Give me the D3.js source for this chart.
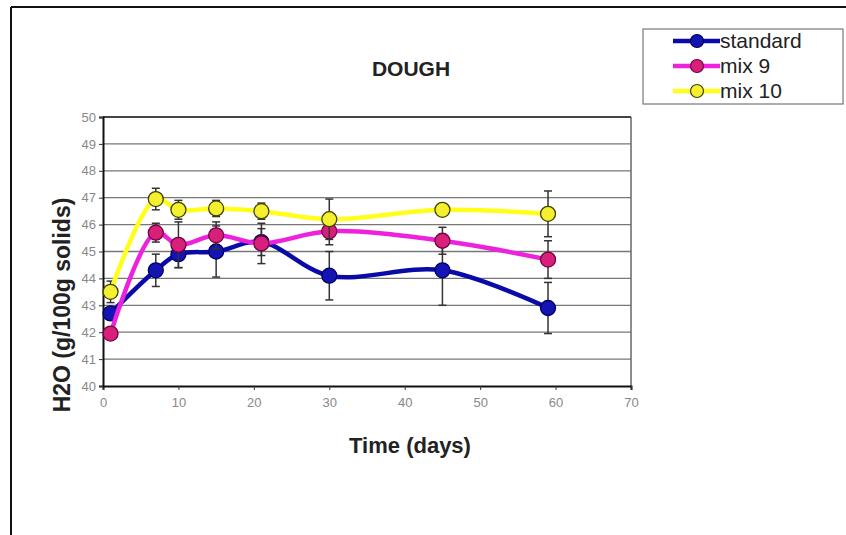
<!DOCTYPE html>
<html><head><meta charset="utf-8">
<script src="https://cdn.jsdelivr.net/npm/d3@7"></script>
<style>body{margin:0;background:#fff}svg{display:block}text{font-family:"Liberation Sans",Arial,sans-serif}</style>
</head><body>
<svg id="c" width="846" height="535"></svg>
<script>
const days = [1, 7, 10, 15, 21, 30, 45, 59];
const standard = [42.7, 44.3, 44.9, 45.0, 45.35, 44.1, 44.3, 42.9];
const standardErr = [0.2, 0.6, 0.5, 0.95, 0.5, 0.9, 1.3, 0.95];
const mix9 = [41.95, 45.7, 45.25, 45.6, 45.3, 45.75, 45.4, 44.7];
const mix9Err = [0.2, 0.35, 0.85, 0.5, 0.75, 0.5, 0.5, 0.7];
const mix10 = [43.5, 46.95, 46.55, 46.6, 46.5, 46.2, 46.55, 46.4];
const mix10Err = [0.4, 0.4, 0.35, 0.3, 0.3, 0.75, 0.2, 0.85];
const seriesNames = ["standard", "mix 9", "mix 10"];
const xTicks = [0, 10, 20, 30, 40, 50, 60, 70];
const yTicks = [40, 41, 42, 43, 44, 45, 46, 47, 48, 49, 50];

const series = [
  {name: seriesNames[0], vals: standard, err: standardErr, line: "#0a0aa8", fill: "#1414b4", stroke: "#000060"},
  {name: seriesNames[1], vals: mix9, err: mix9Err, line: "#ee22dd", fill: "#d8207a", stroke: "#700040"},
  {name: seriesNames[2], vals: mix10, err: mix10Err, line: "#ffff1a", fill: "#f4f030", stroke: "#404000"}
];

const svg = d3.select("#c");
// outer frame
svg.append("line").attr("x1", 11).attr("y1", 7).attr("x2", 846).attr("y2", 7).attr("stroke", "#111").attr("stroke-width", 2);
svg.append("line").attr("x1", 11).attr("y1", 7).attr("x2", 11).attr("y2", 535).attr("stroke", "#111").attr("stroke-width", 2);

const x = d3.scaleLinear().domain([0, 70]).range([103, 631]);
const y = d3.scaleLinear().domain([40, 50]).range([386, 117]);

// gridlines
svg.append("g").selectAll("line").data(yTicks.slice(1)).join("line")
  .attr("x1", x(0)).attr("x2", x(70)).attr("y1", d => y(d)).attr("y2", d => y(d))
  .attr("stroke", "#777").attr("stroke-width", 1.3);
svg.append("line").attr("x1", x(70)).attr("x2", x(70)).attr("y1", y(50)).attr("y2", y(40)).attr("stroke", "#666").attr("stroke-width", 1.5);
svg.append("line").attr("x1", x(0)).attr("x2", x(70)).attr("y1", y(50)).attr("y2", y(50)).attr("stroke", "#444").attr("stroke-width", 1.8);

// axes
const xAxis = d3.axisBottom(x).tickValues(xTicks).tickSize(4).tickFormat(d3.format("d"));
const gx = svg.append("g").attr("transform", `translate(0,${y(40)})`).call(xAxis);
gx.select(".domain").attr("stroke", "#111").attr("stroke-width", 2);
gx.selectAll(".tick line").attr("stroke", "#333");
gx.selectAll("text").attr("font-size", 13).attr("fill", "#888").attr("dy", "1.05em");
const yAxis = d3.axisLeft(y).tickValues(yTicks).tickSize(4).tickFormat(d3.format("d"));
const gy = svg.append("g").attr("transform", `translate(${x(0)},0)`).call(yAxis);
gy.select(".domain").attr("stroke", "#111").attr("stroke-width", 2);
gy.selectAll(".tick line").attr("stroke", "#333");
gy.selectAll("text").attr("font-size", 13).attr("fill", "#888");

const lineGen = d3.line().x(d => x(d[0])).y(d => y(d[1])).curve(d3.curveCatmullRom.alpha(0.5));

series.forEach(s => {
  const pts = days.map((d, i) => [d, s.vals[i], s.err[i]]);
  const g = svg.append("g");
  const eb = g.selectAll("g.eb").data(pts).join("g");
  eb.append("line").attr("x1", d => x(d[0])).attr("x2", d => x(d[0]))
    .attr("y1", d => y(d[1] - d[2])).attr("y2", d => y(d[1] + d[2])).attr("stroke", "#333").attr("stroke-width", 1.5);
  eb.append("line").attr("x1", d => x(d[0]) - 4).attr("x2", d => x(d[0]) + 4)
    .attr("y1", d => y(d[1] + d[2])).attr("y2", d => y(d[1] + d[2])).attr("stroke", "#333").attr("stroke-width", 1.5);
  eb.append("line").attr("x1", d => x(d[0]) - 4).attr("x2", d => x(d[0]) + 4)
    .attr("y1", d => y(d[1] - d[2])).attr("y2", d => y(d[1] - d[2])).attr("stroke", "#333").attr("stroke-width", 1.5);
  g.append("path").datum(pts).attr("d", lineGen).attr("fill", "none").attr("stroke", s.line).attr("stroke-width", 4.5).attr("stroke-linejoin", "round");
  g.selectAll("circle").data(pts).join("circle")
    .attr("cx", d => x(d[0])).attr("cy", d => y(d[1])).attr("r", 7.5)
    .attr("fill", s.fill).attr("stroke", s.stroke).attr("stroke-width", 1.3);
});

// title and axis labels
svg.append("text").attr("x", 411).attr("y", 76).attr("text-anchor", "middle").attr("font-size", 21).attr("font-weight", "bold").attr("fill", "#222").text("DOUGH");
svg.append("text").attr("x", 410).attr("y", 453).attr("text-anchor", "middle").attr("font-size", 22).attr("font-weight", "bold").attr("fill", "#222").text("Time (days)");
svg.append("text").attr("transform", "translate(70,305) rotate(-90)").attr("text-anchor", "middle").attr("font-size", 23).attr("font-weight", "bold").attr("fill", "#222").text("H2O (g/100g solids)");

// legend
const lg = svg.append("g");
lg.append("rect").attr("x", 643).attr("y", 29).attr("width", 200).attr("height", 75).attr("fill", "#fff").attr("stroke", "#777").attr("stroke-width", 1.2);
series.forEach((s, i) => {
  const ly = 41 + i * 25;
  lg.append("line").attr("x1", 673).attr("x2", 720).attr("y1", ly).attr("y2", ly).attr("stroke", s.line).attr("stroke-width", 4.5);
  lg.append("circle").attr("cx", 697).attr("cy", ly).attr("r", 6.5).attr("fill", s.fill).attr("stroke", s.stroke).attr("stroke-width", 1.2);
  lg.append("text").attr("x", 720).attr("y", ly + 7).attr("font-size", 21).attr("fill", "#222").text(s.name);
});
</script>
</body></html>
